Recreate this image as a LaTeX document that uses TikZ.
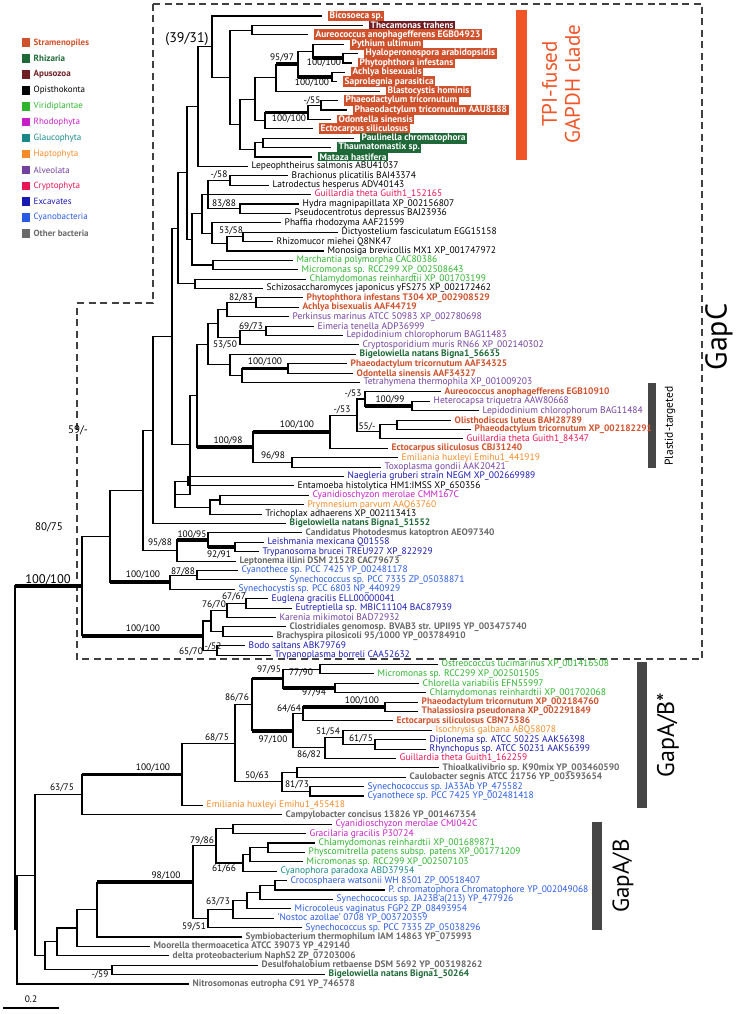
\documentclass[tikz,border=0pt]{standalone}
\usepackage{fontspec}
\setmainfont{PT Sans}
\usetikzlibrary{calc}
\definecolor{cStr}{RGB}{208,82,44}
\definecolor{cRhi}{RGB}{30,105,55}
\definecolor{cApu}{RGB}{110,30,36}
\definecolor{cVir}{RGB}{45,180,45}
\definecolor{cRho}{RGB}{200,30,200}
\definecolor{cGla}{RGB}{25,135,135}
\definecolor{cHap}{RGB}{245,140,40}
\definecolor{cAlv}{RGB}{115,65,160}
\definecolor{cCry}{RGB}{235,20,85}
\definecolor{cExc}{RGB}{25,25,180}
\definecolor{cCya}{RGB}{40,90,230}
\definecolor{cBac}{RGB}{105,105,105}
\definecolor{cTPI}{RGB}{240,85,40}
\definecolor{cBar}{RGB}{70,70,70}
\newcommand\lf{\fontsize{9.5}{10}\selectfont}
\newcommand\lfb{\fontsize{9.4}{10}\selectfont\bfseries}
\tikzset{
 branch/.style={line width=1.1pt, black, line join=miter},
 thickbranch/.style={line width=3.6pt, black},
 lab/.style={anchor=west, inner sep=0pt, xshift=3.5pt, font=\lf},
 labb/.style={lab, font=\lfb},
 boxlab/.style={anchor=west, xshift=6pt, inner xsep=1.5pt, inner ysep=1.1pt, text=white, font=\lfb},
 Lo/.style={lab,text=black}, Lv/.style={lab,text=cVir}, Lr/.style={lab,text=cRho},
 Lg/.style={lab,text=cGla}, Lh/.style={lab,text=cHap}, La/.style={lab,text=cAlv},
 Lc/.style={lab,text=cCry}, Lx/.style={lab,text=cExc}, Ly/.style={lab,text=cCya},
 Ls/.style={labb,text=cStr}, Lz/.style={labb,text=cRhi}, Lb/.style={labb,text=cBac},
 Bs/.style={boxlab,fill=cStr}, Bz/.style={boxlab,fill=cRhi}, Ba/.style={boxlab,fill=cApu},
 sup/.style={inner sep=0pt, font=\fontsize{9.4}{10}\selectfont},
 legsq/.style={minimum size=8.5pt, inner sep=0pt},
 legtx/.style={anchor=west, inner sep=0pt, font=\fontsize{9}{10}\selectfont},
 dashbox/.style={dash pattern=on 7pt off 4.5pt, line width=1.2pt, black!75},
 bigtx/.style={rotate=90, inner sep=0pt}
}
\newcommand\lv[4]{\coordinate (L#1) at (#2,#1); \node[#3] (T#1) at (L#1) {#4};}
\newcommand\nd[3]{\coordinate (#1) at (#2,#3);}
\newcommand\e[2]{\draw[branch] (#1) |- (#2);}
\newcommand\et[2]{\draw[branch] (#1) |- (#2); \draw[thickbranch] (#1 |- #2) -- (#2);}
\begin{document}
\begin{tikzpicture}[x=1pt,y=-1pt]
\useasboundingbox (0,0) rectangle (740,1014);
% legend
\foreach \i/\c/\t/\b in {0/cStr/Stramenopiles/1,1/cRhi/Rhizaria/1,2/cApu/Apusozoa/1,3/black/Opisthokonta/0,4/cVir/Viridiplantae/0,5/cRho/Rhodophyta/0,6/cGla/Glaucophyta/0,7/cHap/Haptophyta/0,8/cAlv/Alveolata/0,9/cCry/Cryptophyta/0,10/cExc/Excavates/0,11/cCya/Cyanobacteria/0,12/cBac/Other bacteria/1}{
 \node[legsq, fill=\c] (sq\i) at (26, 42.7+15.9*\i) {};
 \ifnum\b=1 \node[legtx, text=\c, font=\fontsize{9}{10}\selectfont\bfseries] (lg\i) at (33.5, 42.7+15.9*\i) {\t};
 \else \node[legtx, text=\c] (lg\i) at (33.5, 42.7+15.9*\i) {\t}; \fi
}
% dashed GapC box
\draw[dashbox] (153,4) -- (702,4) -- (702,659) -- (77,659) -- (77,303) -- (153,303) -- cycle;
% bars and clade labels
\fill[cTPI] (516,10) rectangle (527,160);
\node[bigtx, text=cTPI, align=center, font=\fontsize{21}{23}\selectfont] (tpi) at (561,84) {TPI-fused\\GAPDH clade};
\fill[cBar] (648,383) rectangle (656,468);
\node[bigtx, font=\fontsize{11.5}{13}\selectfont] (plt) at (670,426) {Plastid-targeted};
\node[bigtx, font=\fontsize{30}{32}\selectfont] (gapc) at (719,337) {GapC};
\fill[cBar] (637,662) rectangle (647,808);
\node[bigtx, font=\fontsize{24}{26}\selectfont] (gab1) at (668,735) {GapA/B*};
\fill[cBar] (592,822) rectangle (602,930);
\node[bigtx, font=\fontsize{23}{25}\selectfont] (gab2) at (623,876) {GapA/B};
% scale bar
\coordinate (sb1) at (3,1008); \coordinate (sb2) at (59,1008);
\draw[line width=2.4pt] (sb1) -- (sb2);
\node[sup] (sbl) at (31,999) {0.2};
\begin{scope}[y=-9.398pt, yshift=-6.602pt]
\lv{1}{322}{Bs}{Bicosoeca sp.}
\lv{2}{363}{Ba}{Thecamonas trahens}
\lv{3}{308}{Bs}{Aureococcus anophagefferens EGB04923}
\lv{4}{344}{Bs}{Pythium ultimum}
\lv{5}{358}{Bs}{Hyaloperonospora arabidopsidis}
\lv{6}{352}{Bs}{Phytophthora infestans}
\lv{7}{345}{Bs}{Achlya bisexualis}
\lv{8}{337}{Bs}{Saprolegnia parasitica}
\lv{9}{380}{Bs}{Blastocystis hominis}
\lv{10}{338}{Bs}{Phaeodactylum tricornutum}
\lv{11}{347}{Bs}{Phaeodactylum tricornutum AAU8188}
\lv{12}{331}{Bs}{Odontella sinensis}
\lv{13}{313}{Bs}{Ectocarpus siliculosus}
\lv{14}{354}{Bz}{Paulinella chromatophora}
\lv{15}{331}{Bz}{Thaumatomastix sp.}
\lv{16}{312}{Bz}{Mataza hastifera}
\lv{17}{248}{Lo}{Lepeophtheirus salmonis ABU41037}
\lv{18}{288}{Lo}{Brachionus plicatilis BAI43374}
\lv{19}{269}{Lo}{Latrodectus hesperus ADV40143}
\lv{20}{311}{Lc}{Guillardia theta Guith1\_152165}
\lv{21}{299}{Lo}{Hydra magnipapillata XP\_002156807}
\lv{22}{291}{Lo}{Pseudocentrotus depressus BAJ23936}
\lv{23}{281}{Lo}{Phaffia rhodozyma AAF21599}
\lv{24}{338}{Lo}{Dictyostelium fasciculatum EGG15158}
\lv{25}{273}{Lo}{Rhizomucor miehei Q8NK47}
\lv{26}{324}{Lo}{Monosiga brevicollis MX1 XP\_001747972}
\lv{27}{293}{Lv}{Marchantia polymorpha CAC80386}
\lv{28}{298}{Lv}{Micromonas sp. RCC299 XP\_002508643}
\lv{29}{306}{Lv}{Chlamydomonas reinhardtii XP\_001703199}
\lv{30}{263}{Lo}{Schizosaccharomyces japonicus yFS275 XP\_002172462}
\lv{31}{303}{Ls}{Phytophthora infestans T304 XP\_002908529}
\lv{32}{299}{Ls}{Achlya bisexualis AAF44719}
\lv{33}{289}{La}{Perkinsus marinus ATCC 50983 XP\_002780698}
\lv{34}{314}{La}{Eimeria tenella ADP36999}
\lv{35}{343}{La}{Lepidodinium chlorophorum BAG11483}
\lv{36}{359}{La}{Cryptosporidium muris RN66 XP\_002140302}
\lv{37}{356}{Lz}{Bigelowiella natans Bigna1\_56635}
\lv{38}{347}{Ls}{Phaeodactylum tricornutum AAF34325}
\lv{39}{353}{Ls}{Odontella sinensis AAF34327}
\lv{40}{360}{La}{Tetrahymena thermophila XP\_001009203}
\lv{41}{441}{Ls}{Aureococcus anophagefferens EGB10910}
\lv{42}{430}{La}{Heterocapsa triquetra AAW80668}
\lv{43}{479}{La}{Lepidodinium chlorophorum BAG11484}
\lv{44}{451}{Ls}{Olisthodiscus luteus BAH28789}
\lv{45}{471}{Ls}{Phaeodactylum tricornutum XP\_002182291}
\lv{46}{463}{Lc}{Guillardia theta Guith1\_84347}
\lv{47}{388}{Ls}{Ectocarpus siliculosus CBJ31240}
\lv{48}{398}{Lh}{Emiliania huxleyi Emihu1\_441919}
\lv{49}{381}{La}{Toxoplasma gondii AAK20421}
\lv{50}{344}{Lx}{Naegleria gruberi strain NEGM XP\_002669989}
\lv{51}{294}{Lo}{Entamoeba histolytica HM1:IMSS XP\_650356}
\lv{52}{309}{Lr}{Cyanidioschyzon merolae CMM167C}
\lv{53}{304}{Lh}{Prymnesium parvum AAQ63760}
\lv{54}{262}{Lo}{Trichoplax adhaerens XP\_002113413}
\lv{55}{286}{Lz}{Bigelowiella natans Bigna1\_51552}
\lv{56}{302}{Lb}{Candidatus Photodesmus katoptron AEO97340}
\lv{57}{264}{Lx}{Leishmania mexicana Q01558}
\lv{58}{259}{Lx}{Trypanosoma brucei TREU927 XP\_822929}
\lv{59}{236}{Lb}{Leptonema illini DSM 21528 CAC79673}
\lv{60}{238}{Ly}{Cyanothece sp. PCC 7425 YP\_002481178}
\lv{61}{286}{Ly}{Synechococcus sp. PCC 7335 ZP\_05038871}
\lv{62}{235}{Ly}{Synechocystis sp. PCC 6803 NP\_440929}
\lv{63}{268}{Lx}{Euglena gracilis ELL00000041}
\lv{64}{292}{Lx}{Eutreptiella sp. MBIC11104 BAC87939}
\lv{65}{276}{La}{Karenia mikimotoi BAD72932}
\lv{66}{286}{Lb}{Clostridiales genomosp. BVAB3 str. UPII95 YP\_003475740}
\lv{67}{273}{Lb}{Brachyspira pilosicoli 95/1000 YP\_003784910}
\lv{68}{245}{Lx}{Bodo saltans ABK79769}
\lv{69}{271}{Lx}{Trypanoplasma borreli CAA52632}
\lv{70}{438}{Lv}{Ostreococcus lucimarinus XP\_001416508}
\lv{71}{374}{Lv}{Micromonas sp. RCC299 XP\_002501505}
\lv{72}{419}{Lv}{Chlorella variabilis EFN55997}
\lv{73}{426}{Lv}{Chlamydomonas reinhardtii XP\_001702068}
\lv{74}{418}{Ls}{Phaeodactylum tricornutum XP\_002184760}
\lv{75}{418}{Ls}{Thalassiosira pseudonana XP\_002291849}
\lv{76}{393}{Ls}{Ectocarpus siliculosus CBN75386}
\lv{77}{432}{Lh}{Isochrysis galbana ABQ58078}
\lv{78}{426}{Lx}{Diplonema sp. ATCC 50225 AAK56398}
\lv{79}{426}{Lx}{Rhynchopus sp. ATCC 50231 AAK56399}
\lv{80}{396}{Lc}{Guillardia theta Guith1\_162259}
\lv{81}{439}{Lb}{Thioalkalivibrio sp. K90mix YP\_003460590}
\lv{82}{406}{Lb}{Caulobacter segnis ATCC 21756 YP\_003593654}
\lv{83}{364}{Ly}{Synechococcus sp. JA33Ab YP\_475582}
\lv{84}{364}{Ly}{Cyanothece sp. PCC 7425 YP\_002481418}
\lv{85}{203}{Lh}{Emiliania huxleyi Emihu1\_455418}
\lv{86}{282}{Lb}{Campylobacter concisus 13826 YP\_001467354}
\lv{87}{332}{Lr}{Cyanidioschyzon merolae CMJ042C}
\lv{88}{306}{Lr}{Gracilaria gracilis P30724}
\lv{89}{315}{Lv}{Chlamydomonas reinhardtii XP\_001689871}
\lv{90}{305}{Lv}{Physcomitrella patens subsp. patens XP\_001771209}
\lv{91}{303}{Lv}{Micromonas sp. RCC299 XP\_002507103}
\lv{92}{277}{Lg}{Cyanophora paradoxa ABD37954}
\lv{93}{287}{Ly}{Crocosphaera watsonii WH 8501 ZP\_00518407}
\lv{94}{385}{Ly}{P. chromatophora Chromatophore YP\_002049068}
\lv{95}{333}{Ly}{Synechococcus sp. JA23B'a(213) YP\_477926}
\lv{96}{291}{Ly}{Microcoleus vaginatus FGP2 ZP\_08493954}
\lv{97}{274}{Ly}{'Nostoc azollae' 0708 YP\_003720359}
\lv{98}{302}{Ly}{Synechococcus sp. PCC 7335 ZP\_05038296}
\lv{99}{242}{Lb}{Symbiobacterium thermophilum IAM 14863 YP\_075993}
\lv{100}{150}{Lb}{Moorella thermoacetica ATCC 39073 YP\_429140}
\lv{101}{169}{Lb}{delta proteobacterium NaphS2 ZP\_07203006}
\lv{102}{258}{Lb}{Desulfohalobium retbaense DSM 5692 YP\_003198262}
\lv{103}{325}{Lz}{Bigelowiella natans Bigna1\_50264}
\lv{104}{189}{Lb}{Nitrosomonas eutropha C91 YP\_746578}
% internal nodes (x px, y in leaf units)
\nd{nTA}{252}{2.5}\nd{nHP}{343}{5.5}\nd{nPHH}{313}{4.75}
\nd{nAS}{332}{7.5}\nd{n9597}{298}{6.125}\nd{nOOM}{276}{7.5625}\nd{nPP}{321}{10.5}
\nd{n55}{308}{11.25}\nd{nDIA}{265}{12.125}\nd{nSTR}{255}{9.84}\nd{nPT}{263}{14.5}
\nd{nRHZ}{255}{15.25}\nd{nSR}{240}{12.55}\nd{nX}{230}{7.525}\nd{n212}{212}{4.2625}
\nd{n3931}{198}{10.63}
\nd{nBL}{230}{18.5}\nd{nHP2}{240}{21.5}\nd{nGT}{208}{20}\nd{nDR}{243}{24.5}
\nd{n5358}{227}{25.25}\nd{nPH}{212}{24.125}\nd{nOP}{202}{22.06}\nd{nMM}{213}{27.5}
\nd{nCS}{195}{29.5}\nd{n192}{192}{24.78}\nd{n187}{187}{17.7}\nd{n178}{178}{23.6}
\nd{nPA}{256}{31.5}\nd{n8283}{227}{32.25}\nd{nEL}{266}{34.5}\nd{n6973}{240}{35.25}
\nd{nALV}{218}{33.75}\nd{nPO}{288}{38.5}\nd{nTET}{242}{39.25}\nd{nBIG}{230}{38.125}
\nd{n5350}{208}{35.94}\nd{nHL}{412}{42.5}\nd{nAH}{365}{41.75}\nd{nOP2}{397}{44.5}
\nd{n55m}{380}{45.25}\nd{n53b}{357}{43.5}\nd{n53a}{330}{45.25}\nd{nET}{292}{48.5}
\nd{n10098}{253}{46.875}\nd{n197}{197}{41.41}\nd{nNE}{188}{50.5}\nd{nCP}{220}{52.5}
\nd{nTR}{210}{53.25}\nd{n175}{175}{51.875}\nd{n190}{190}{46.64}\nd{n172}{172}{35.12}
\nd{n153}{153}{45.06}\nd{nLT}{235}{57.5}\nd{n10095}{208}{56.75}\nd{n9588}{177}{57.875}
\nd{n143}{143}{51.47}\nd{nCS2}{197}{60.5}\nd{n8788}{170}{61.25}\nd{n110}{110}{56.36}
\nd{nEE}{246}{63.5}\nd{n7670}{227}{64.25}\nd{nCB}{223}{66.5}\nd{n52}{211}{65.375}
\nd{nBT}{217}{68.5}\nd{nGC2}{203}{66.94}\nd{nGC}{82}{61.65}
\nd{nOM}{320}{70.5}\nd{nCC}{335}{72.5}\nd{n9795}{283}{71.5}\nd{nPT2}{385}{74.5}
\nd{n6464}{303}{75.25}\nd{nDR2}{375}{78.5}\nd{n5154}{343}{77.75}\nd{n8682}{325}{78.875}
\nd{n97100}{293}{77.06}\nd{n8676}{252}{74.28}\nd{nTC}{297}{81.5}\nd{nSC}{310}{83.5}
\nd{n5063}{282}{82.5}\nd{n6875}{235}{78.39}\nd{n100}{182}{81.70}\nd{n6375}{82}{83.85}
\nd{nCG}{233}{87.5}\nd{nCP2}{268}{89.5}\nd{nM}{250}{90.25}\nd{n6166}{243}{91.125}
\nd{n7986}{216}{89.31}\nd{nCPC}{275}{93.5}\nd{nJ}{260}{94.25}\nd{nMV}{247}{95.125}
\nd{n6373}{233}{96.06}\nd{n5951}{208}{97.03}\nd{n98100}{193}{93.17}\nd{nSYM}{97}{96.09}
\nd{nMOO}{77}{98.04}\nd{nDEL}{57}{99.52}\nd{n59}{112}{102.5}\nd{n45}{45}{101.01}
\nd{n35}{35}{92.43}\nd{n17}{17}{98.22}\nd{root}{15}{79.94}
\end{scope}
% branches
\e{nTA}{L2}\e{nTA}{L3}
\e{nHP}{L5}\e{nHP}{L6}\e{nPHH}{L4}\et{nPHH}{nHP}
\e{nAS}{L7}\e{nAS}{L8}\e{n9597}{nPHH}\et{n9597}{nAS}
\et{nOOM}{n9597}\e{nOOM}{L9}
\e{nPP}{L10}\e{nPP}{L11}\e{n55}{nPP}\e{n55}{L12}
\et{nDIA}{n55}\e{nDIA}{L13}\e{nSTR}{nOOM}\e{nSTR}{nDIA}
\e{nPT}{L14}\e{nPT}{L15}\e{nRHZ}{nPT}\e{nRHZ}{L16}
\e{nSR}{nSTR}\e{nSR}{nRHZ}\e{nX}{nTA}\e{nX}{nSR}
\e{n212}{L1}\e{n212}{nX}
\e{n3931}{n212}\e{n3931}{L17}
\e{nBL}{L18}\e{nBL}{L19}\e{nHP2}{L21}\e{nHP2}{L22}
\e{nGT}{nBL}\e{nGT}{L20}\e{nGT}{nHP2}
\e{nDR}{L24}\e{nDR}{L25}\e{n5358}{nDR}\e{n5358}{L26}
\e{nPH}{L23}\e{nPH}{n5358}\e{nOP}{nGT}\e{nOP}{nPH}
\e{nMM}{L27}\e{nMM}{L28}\e{nCS}{L29}\e{nCS}{L30}
\e{n192}{nOP}\e{n192}{nMM}\e{n187}{n3931}\e{n187}{n192}
\e{n178}{n187}\e{n178}{nCS}
\e{nPA}{L31}\e{nPA}{L32}\e{n8283}{nPA}\e{n8283}{L33}
\e{nEL}{L34}\e{nEL}{L35}\e{n6973}{nEL}\e{n6973}{L36}
\e{nALV}{n8283}\e{nALV}{n6973}
\e{nPO}{L38}\e{nPO}{L39}\et{nTET}{nPO}\e{nTET}{L40}
\e{nBIG}{L37}\e{nBIG}{nTET}\e{n5350}{nALV}\e{n5350}{nBIG}
\e{nHL}{L42}\e{nHL}{L43}\e{nAH}{L41}\et{nAH}{nHL}
\e{nOP2}{L44}\e{nOP2}{L45}\e{n55m}{nOP2}\e{n55m}{L46}
\e{n53b}{nAH}\e{n53b}{n55m}\e{n53a}{n53b}\e{n53a}{L47}
\e{nET}{L48}\e{nET}{L49}\et{n10098}{n53a}\e{n10098}{nET}
\e{n197}{n5350}\et{n197}{n10098}
\e{nNE}{L50}\e{nNE}{L51}\e{nCP}{L52}\e{nCP}{L53}
\e{nTR}{nCP}\e{nTR}{L54}\e{n175}{nNE}\e{n175}{nTR}
\e{n190}{n197}\e{n190}{n175}\e{n172}{n178}\e{n172}{n190}
\e{n153}{n172}\e{n153}{L55}
\e{nLT}{L57}\e{nLT}{L58}\e{n10095}{L56}\et{n10095}{nLT}
\et{n9588}{n10095}\e{n9588}{L59}
\e{n143}{n153}\e{n143}{n9588}
\e{nCS2}{L60}\e{nCS2}{L61}\e{n8788}{nCS2}\e{n8788}{L62}
\e{n110}{n143}\et{n110}{n8788}
\e{nEE}{L63}\e{nEE}{L64}\e{n7670}{nEE}\e{n7670}{L65}
\e{nCB}{L66}\e{nCB}{L67}\e{n52}{n7670}\e{n52}{nCB}
\e{nBT}{L68}\e{nBT}{L69}\e{nGC2}{n52}\e{nGC2}{nBT}
\e{nGC}{n110}\et{nGC}{nGC2}
\e{nOM}{L70}\e{nOM}{L71}\e{nCC}{L72}\e{nCC}{L73}
\e{n9795}{nOM}\et{n9795}{nCC}
\e{nPT2}{L74}\e{nPT2}{L75}\et{n6464}{nPT2}\e{n6464}{L76}
\e{nDR2}{L78}\e{nDR2}{L79}\e{n5154}{L77}\e{n5154}{nDR2}
\e{n8682}{n5154}\e{n8682}{L80}
\e{n97100}{n6464}\e{n97100}{n8682}
\et{n8676}{n9795}\et{n8676}{n97100}
\e{nTC}{L81}\e{nTC}{L82}\e{nSC}{L83}\e{nSC}{L84}
\e{n5063}{nTC}\e{n5063}{nSC}
\e{n6875}{n8676}\e{n6875}{n5063}
\e{n100}{n6875}\e{n100}{L85}
\et{n6375}{n100}\e{n6375}{L86}
\e{nCG}{L87}\e{nCG}{L88}\e{nCP2}{L89}\e{nCP2}{L90}
\e{nM}{nCP2}\e{nM}{L91}\e{n6166}{nM}\e{n6166}{L92}
\e{n7986}{nCG}\e{n7986}{n6166}
\e{nCPC}{L93}\e{nCPC}{L94}\e{nJ}{nCPC}\e{nJ}{L95}
\e{nMV}{nJ}\e{nMV}{L96}\e{n6373}{nMV}\e{n6373}{L97}
\e{n5951}{n6373}\e{n5951}{L98}
\e{n98100}{n7986}\e{n98100}{n5951}
\et{nSYM}{n98100}\e{nSYM}{L99}
\e{nMOO}{nSYM}\e{nMOO}{L100}\e{nDEL}{nMOO}\e{nDEL}{L101}
\e{n59}{L102}\e{n59}{L103}\e{n45}{nDEL}\e{n45}{n59}
\e{n35}{n6375}\e{n35}{n45}\e{n17}{n35}\e{n17}{L104}
\et{root}{nGC}\e{root}{n17}
% support values
\node[sup, font=\fontsize{14}{15}\selectfont] (s01) at (187,39) {(39/31)};
\node[sup] (s02) at (282,58) {95/97};
\node[sup] (s03) at (324,63) {100/100};
\node[sup] (s04) at (312,83) {100/100};
\node[sup] (s05) at (312,101) {-/55};
\node[sup] (s06) at (289,119) {100/100};
\node[sup] (s07) at (219,175) {-/58};
\node[sup] (s08) at (224,204) {83/88};
\node[sup] (s09) at (231,231) {53/58};
\node[sup] (s10) at (241,298) {82/83};
\node[sup] (s11) at (251,327) {69/73};
\node[sup] (s12) at (225,345) {53/50};
\node[sup] (s13) at (265,362) {100/100};
\node[sup] (s14) at (353,394) {-/53};
\node[sup] (s15) at (390,400) {100/99};
\node[sup] (s16) at (342,410) {-/53};
\node[sup] (s17) at (297,425) {100/100};
\node[sup] (s18) at (367,427) {55/-};
\node[sup] (s19) at (228,441) {100/98};
\node[sup] (s20) at (273,456) {96/98};
\node[sup, font=\fontsize{11}{12}\selectfont] (s21) at (78,430) {59/-};
\node[sup, font=\fontsize{11}{12}\selectfont] (s22) at (49,527) {80/75};
\node[sup] (s23) at (192,535) {100/95};
\node[sup] (s24) at (160,543) {95/88};
\node[sup] (s25) at (219,555) {92/91};
\node[sup] (s26) at (143,575) {100/100};
\node[sup] (s27) at (183,572) {87/88};
\node[sup, font=\fontsize{12.5}{13}\selectfont] (s28) at (48,580) {100/100};
\node[sup] (s29) at (234,597) {67/67};
\node[sup] (s30) at (214,605) {76/70};
\node[sup] (s31) at (143,629) {100/100};
\node[sup] (s32) at (213,647) {-/52};
\node[sup] (s33) at (191,652) {65/70};
\node[sup] (s34) at (269,670) {97/95};
\node[sup] (s35) at (301,673) {77/90};
\node[sup] (s36) at (314,693) {97/94};
\node[sup] (s37) at (237,698) {86/76};
\node[sup] (s38) at (362,701) {100/100};
\node[sup] (s39) at (289,709) {64/64};
\node[sup] (s40) at (328,732) {51/54};
\node[sup] (s41) at (217,738) {68/75};
\node[sup] (s42) at (273,740) {97/100};
\node[sup] (s43) at (361,739) {61/75};
\node[sup] (s44) at (309,755) {86/82};
\node[sup] (s45) at (153,768) {100/100};
\node[sup] (s46) at (257,776) {50/63};
\node[sup] (s47) at (297,785) {81/73};
\node[sup] (s48) at (62,788) {63/75};
\node[sup] (s49) at (202,841) {79/86};
\node[sup] (s50) at (224,869) {61/66};
\node[sup] (s51) at (166,876) {98/100};
\node[sup] (s52) at (218,902) {63/73};
\node[sup] (s53) at (194,927) {59/51};
\node[sup] (s54) at (100,975) {-/59};
\end{tikzpicture}
\end{document}
